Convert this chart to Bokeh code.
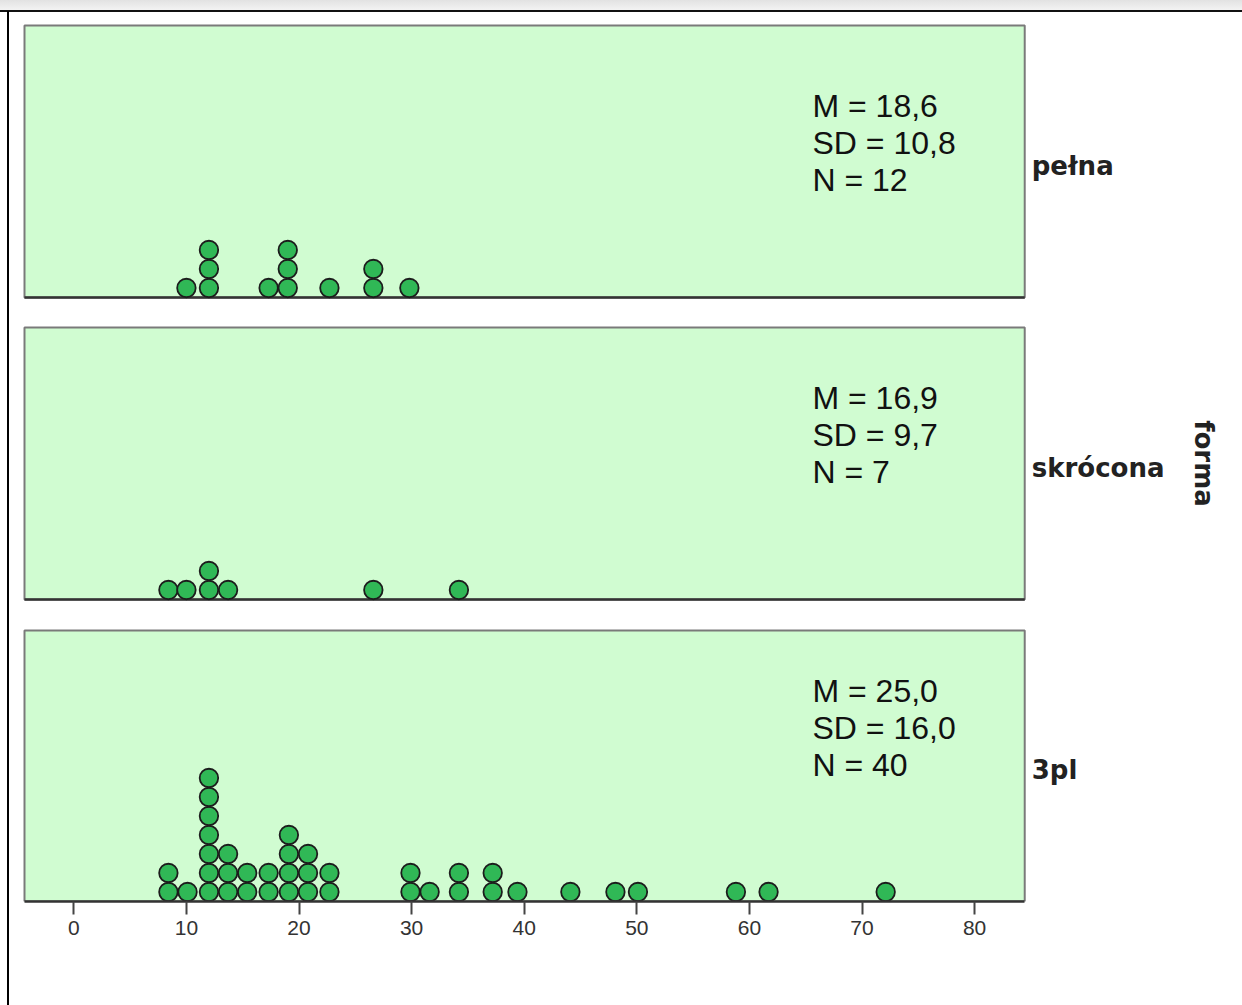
import math
from collections import Counter
from bokeh.plotting import figure
from bokeh.layouts import column
from bokeh.models import Range1d, Label, FixedTicker, ColumnDataSource, GlobalInlineStyleSheet
from bokeh.embed import file_html
from bokeh.resources import INLINE

# ---- data ----
groups = ["pełna", "skrócona", "3pl"]
axis_label = "forma"
x_ticks = [0, 10, 20, 30, 40, 50, 60, 70, 80]

values_pelna = [10.0, 12.0, 12.0, 12.0, 17.3, 19.0, 19.0, 19.0, 22.7, 26.6, 26.6, 29.8]
values_skrocona = [8.4, 10.0, 12.0, 12.0, 13.7, 26.6, 34.2]
values_3pl = [8.4, 8.4, 10.1, 12.0, 12.0, 12.0, 12.0, 12.0, 12.0, 12.0,
              13.7, 13.7, 13.7, 15.4, 15.4, 17.3, 17.3, 19.1, 19.1, 19.1, 19.1,
              20.8, 20.8, 20.8, 22.7, 22.7, 29.9, 29.9, 31.6, 34.2, 34.2,
              37.2, 37.2, 39.4, 44.1, 48.1, 50.1, 58.8, 61.7, 72.1]

stats_pelna = ["M = 18,6", "SD = 10,8", "N = 12"]
stats_skrocona = ["M = 16,9", "SD = 9,7", "N = 7"]
stats_3pl = ["M = 25,0", "SD = 16,0", "N = 40"]

all_values = [values_pelna, values_skrocona, values_3pl]
all_stats = [stats_pelna, stats_skrocona, stats_3pl]

# ---- styling / layout ----
W = 1242
PXU = 11.26            # px per x unit
X0, X1 = -4.38, 84.45  # panel x extent (data)
LEFT_PX = 24           # panel left edge in px
XR0 = X0 - LEFT_PX / PXU
XR1 = XR0 + W / PXU
DOT = 19.0  # px per stacking step
panel_heights = [272, 272, 271]
margins = [(25, 15), (15, 16), (15, 0)]   # px above / below each panel
stat_px = [(192, 155, 118), (202, 165, 128), (211, 174, 137)]  # px above panel bottom
PANEL_BG = "#d0fcd1"
DOT_FILL = "#30b856"
DOT_LINE = "#1c1c1c"

figs = []
for i, (grp, vals, stats) in enumerate(zip(groups, all_values, all_stats)):
    ph = panel_heights[i]
    top, bottom = margins[i]
    last = i == len(groups) - 1
    p = figure(frame_width=W, frame_height=ph + top + bottom,
               min_border_left=0, min_border_right=0,
               min_border_top=0, min_border_bottom=90 if last else 0,
               x_range=Range1d(XR0, XR1),
               y_range=Range1d(-bottom / DOT, (ph + top) / DOT),
               output_backend="svg", toolbar_location=None,
               x_axis_location="below" if last else None,
               y_axis_location=None)
    p.background_fill_color = None
    p.border_fill_color = None
    p.outline_line_color = None
    p.xgrid.visible = False
    p.ygrid.visible = False

    # panel box
    p.quad(left=[X0], right=[X1], bottom=[0], top=[ph / DOT],
           fill_color=PANEL_BG, line_color="#7a7a7a", line_width=2)
    if not last:
        p.segment(x0=[X0], y0=[0], x1=[X1], y1=[0], line_color="#333333", line_width=2.5)

    # stacked dots
    cnt = Counter()
    xs, ys = [], []
    for v in vals:
        xs.append(v)
        ys.append(0.5 + cnt[v])
        cnt[v] += 1
    src = ColumnDataSource(dict(x=xs, y=ys))
    p.scatter("x", "y", source=src, size=18.5, fill_color=DOT_FILL,
              line_color=DOT_LINE, line_width=1.8)

    if last:
        ax = p.xaxis[0]
        ax.ticker = FixedTicker(ticks=x_ticks)
        ax.bounds = (X0, X1)
        ax.axis_line_color = "#333333"
        ax.axis_line_width = 2.5
        ax.major_tick_line_color = "#444444"
        ax.major_tick_line_width = 2
        ax.major_tick_out = 13
        ax.major_tick_in = 0
        ax.minor_tick_line_color = None
        ax.major_label_standoff = 6
        ax.major_label_text_font = "Liberation Sans"
        ax.major_label_text_font_size = "21px"
        ax.major_label_text_color = "#333333"

    # stats text
    for txt, px in zip(stats, stat_px[i]):
        p.add_layout(Label(x=65.6, y=px / DOT, text=txt, text_align="left",
                           text_baseline="middle", text_font="Liberation Sans",
                           text_font_size="32px", text_color="#111111"))

    # group label on the right
    p.add_layout(Label(x=X1 + 7 / PXU, y=(ph / 2 - 4) / DOT, text=grp,
                       text_align="left", text_baseline="middle",
                       text_font="DejaVu Sans", text_font_style="bold",
                       text_font_size="26px", text_color="#222222"))
    if i == 1:
        p.add_layout(Label(x=X0 + (1203 - LEFT_PX) / PXU, y=ph / 2 / DOT, text=axis_label,
                           angle=-math.pi / 2, text_align="center",
                           text_baseline="middle", text_font="DejaVu Sans",
                           text_font_style="bold", text_font_size="26px",
                           text_color="#222222"))
    figs.append(p)

css = GlobalInlineStyleSheet(css="""
html, body { margin: 0; padding: 0; height: 100%; }
body {
  background-color: #ffffff;
  background-image: linear-gradient(#000000, #000000),
                    linear-gradient(to bottom, #e2e2e2 0px, #f3f3f3 10px, #111111 10px, #111111 12px, #ffffff 12px);
  background-size: 2px 100%, 100% 100%;
  background-position: 7px 11px, 0 0;
  background-repeat: no-repeat;
}
""")

layout = column(*figs, spacing=0)
layout.stylesheets = [css]

open("out.html", "w").write(file_html(layout, INLINE))
